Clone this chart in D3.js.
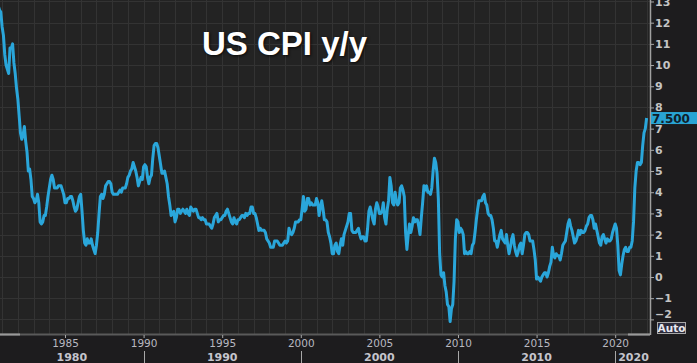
<!DOCTYPE html>
<html>
<head>
<meta charset="utf-8">
<script src="https://cdn.jsdelivr.net/npm/d3@7"></script>
<style>
  html, body { margin: 0; padding: 0; background: #1d1c1e; }
  svg { display: block; }
</style>
</head>
<body>
<div id="content"></div>
<script>
// US CPI y/y, monthly, starting Aug 1980
var startYear = 1980;
var startMonth = 7; // 0 = Jan
var cpiYoY = [
  12.9, 12.6, 12.8, 12.6, 12.5,
  11.8, 11.4, 10.5, 10.0, 9.8, 9.6, 10.8, 10.8, 11.0, 10.1, 9.6, 8.9,
  8.4, 7.6, 6.8, 6.5, 6.7, 7.1, 6.4, 5.9, 5.0, 5.1, 4.6, 3.8,
  3.7, 3.5, 3.6, 3.9, 3.5, 2.6, 2.5, 2.6, 2.9, 2.9, 3.3, 3.8,
  4.2, 4.6, 4.8, 4.6, 4.2, 4.2, 4.2, 4.3, 4.3, 4.3, 4.1, 3.9,
  3.5, 3.5, 3.7, 3.7, 3.8, 3.8, 3.6, 3.3, 3.1, 3.2, 3.5, 3.8,
  3.9, 3.1, 2.2, 1.6, 1.5, 1.8, 1.6, 1.6, 1.8, 1.5, 1.3, 1.1,
  1.5, 2.1, 3.0, 3.8, 3.9, 3.7, 3.9, 4.3, 4.4, 4.5, 4.5, 4.4,
  4.0, 3.9, 3.9, 3.9, 3.9, 4.0, 4.1, 4.0, 4.2, 4.2, 4.2, 4.4,
  4.7, 4.8, 5.0, 5.1, 5.4, 5.2, 5.0, 4.7, 4.3, 4.5, 4.7, 4.6,
  5.2, 5.3, 5.2, 4.7, 4.4, 4.7, 4.8, 5.6, 6.2, 6.3, 6.3, 6.1,
  5.7, 5.3, 4.9, 4.9, 5.0, 4.7, 4.4, 3.8, 3.4, 2.9, 3.0, 3.1,
  2.6, 2.8, 3.2, 3.2, 3.0, 3.1, 3.2, 3.1, 3.0, 3.2, 3.0, 2.9,
  3.3, 3.2, 3.1, 3.2, 3.2, 3.0, 2.8, 2.8, 2.7, 2.8, 2.7, 2.7,
  2.5, 2.5, 2.5, 2.4, 2.3, 2.5, 2.8, 2.9, 3.0, 2.6, 2.7, 2.7,
  2.8, 2.9, 2.9, 3.1, 3.2, 3.0, 2.8, 2.6, 2.5, 2.8, 2.6, 2.5,
  2.7, 2.7, 2.8, 2.9, 2.9, 2.8, 3.0, 2.9, 3.0, 3.0, 3.3, 3.3,
  3.0, 3.0, 2.8, 2.5, 2.2, 2.3, 2.2, 2.2, 2.2, 2.1, 1.8, 1.7,
  1.6, 1.4, 1.4, 1.4, 1.7, 1.7, 1.7, 1.6, 1.5, 1.5, 1.5, 1.6,
  1.7, 1.6, 1.7, 2.3, 2.1, 2.0, 2.1, 2.3, 2.6, 2.6, 2.6, 2.7,
  2.7, 3.2, 3.8, 3.1, 3.2, 3.7, 3.7, 3.4, 3.5, 3.4, 3.4, 3.4,
  3.7, 3.5, 2.9, 3.3, 3.6, 3.2, 2.7, 2.7, 2.6, 2.1, 1.9, 1.6,
  1.1, 1.1, 1.5, 1.6, 1.2, 1.1, 1.5, 1.8, 1.5, 2.0, 2.2, 2.4,
  2.6, 3.0, 3.0, 2.2, 2.1, 2.1, 2.1, 2.2, 2.3, 2.0, 1.8, 1.9,
  1.9, 1.7, 1.7, 2.3, 3.1, 3.3, 3.0, 2.7, 2.5, 3.2, 3.5, 3.3,
  3.0, 3.0, 3.1, 3.5, 2.8, 2.5, 3.2, 3.6, 4.7, 4.3, 3.5, 3.4,
  4.0, 3.6, 3.4, 3.5, 4.2, 4.3, 4.1, 3.8, 2.1, 1.3, 2.0, 2.5,
  2.1, 2.4, 2.8, 2.6, 2.7, 2.7, 2.4, 2.0, 2.8, 3.5, 4.3, 4.1,
  4.3, 4.0, 4.0, 3.9, 4.2, 5.0, 5.6, 5.4, 4.9, 3.7, 1.1, 0.1,
  0.0, 0.2, -0.4, -0.7, -1.3, -1.4, -2.1, -1.5, -1.3, -0.2, 1.8, 2.7,
  2.6, 2.1, 2.3, 2.2, 2.0, 1.1, 1.2, 1.1, 1.1, 1.2, 1.1, 1.5,
  1.6, 2.1, 2.7, 3.2, 3.6, 3.6, 3.6, 3.8, 3.9, 3.5, 3.4, 3.0,
  2.9, 2.9, 2.7, 2.3, 1.7, 1.7, 1.4, 1.7, 2.0, 2.2, 1.8, 1.7,
  1.6, 2.0, 1.5, 1.1, 1.4, 1.8, 2.0, 1.5, 1.2, 1.0, 1.2, 1.5,
  1.6, 1.1, 1.5, 2.0, 2.1, 2.1, 2.0, 1.7, 1.7, 1.7, 1.3, 0.8,
  -0.1, 0.0, -0.1, -0.2, 0.0, 0.1, 0.2, 0.2, 0.0, 0.2, 0.5, 0.7,
  1.4, 1.0, 0.9, 1.1, 1.0, 1.0, 0.8, 1.1, 1.5, 1.6, 1.7, 2.1,
  2.5, 2.7, 2.4, 2.2, 1.9, 1.6, 1.7, 1.9, 2.2, 2.0, 2.2, 2.1,
  2.1, 2.2, 2.4, 2.5, 2.8, 2.9, 2.9, 2.7, 2.3, 2.5, 2.2, 1.9,
  1.6, 1.5, 1.9, 2.0, 1.8, 1.6, 1.8, 1.7, 1.7, 1.8, 2.1, 2.3,
  2.5, 2.3, 1.5, 0.3, 0.1, 0.6, 1.0, 1.3, 1.4, 1.2, 1.2, 1.4,
  1.4, 1.7, 2.6, 4.2, 5.0, 5.4, 5.4, 5.3, 5.4, 6.2, 6.8, 7.0,
  7.5
];
var yTicks = [-2, -1, 0, 1, 2, 3, 4, 5, 6, 7, 8, 9, 10, 11, 12, 13];
var xTickYears = [1985, 1990, 1995, 2000, 2005, 2010, 2015, 2020];
var decadeStarts = [1980, 1990, 2000, 2010, 2020];
var lastLabel = "7.500";

var width = 697, height = 363;
var plotRight = 650, plotBottom = 334;

var data = cpiYoY.map(function(v, i) {
  return { t: startYear + (startMonth + i) / 12, v: v };
});

var x = d3.scaleLinear().domain([1980.865, 2022.215]).range([0, plotRight]);
var y = d3.scaleLinear().domain([-2.69, 13.07]).range([plotBottom, 0]);

var svg = d3.select("#content").append("svg")
  .attr("width", width)
  .attr("height", height);

svg.append("rect").attr("width", width).attr("height", height).attr("fill", "#1d1c1e");
svg.append("rect").attr("width", plotRight).attr("height", plotBottom).attr("fill", "#232323");

svg.append("defs").append("clipPath").attr("id", "plotClip")
  .append("rect").attr("width", plotRight).attr("height", plotBottom);

// grid
var grid = svg.append("g").attr("stroke", "#333333").attr("stroke-width", 1);
grid.selectAll(".vg").data(d3.range(1981, 2023)).enter().append("line")
  .attr("x1", function(d) { return Math.round(x(d)) + 0.5; })
  .attr("x2", function(d) { return Math.round(x(d)) + 0.5; })
  .attr("y1", 0).attr("y2", plotBottom);
grid.selectAll(".hg").data(yTicks).enter().append("line")
  .attr("x1", 0).attr("x2", plotRight)
  .attr("y1", function(d) { return Math.round(y(d)) + 0.5; })
  .attr("y2", function(d) { return Math.round(y(d)) + 0.5; });

// title
svg.append("text")
  .attr("x", 202).attr("y", 55)
  .attr("font-family", "Liberation Sans, Arial, sans-serif")
  .attr("font-weight", "bold")
  .attr("font-size", 33)
  .attr("fill", "#ffffff")
  .attr("style", "text-shadow: 1px 1px 3px rgba(0,0,0,0.8)")
  .text("US CPI y/y");

// line
var line = d3.line()
  .x(function(d) { return x(d.t); })
  .y(function(d) { return y(d.v); });

svg.append("path")
  .datum(data)
  .attr("clip-path", "url(#plotClip)")
  .attr("d", line)
  .attr("fill", "none")
  .attr("stroke", "#2aa6da")
  .attr("stroke-width", 3)
  .attr("stroke-linejoin", "round");

// frame lines
svg.append("line").attr("x1", 0).attr("x2", plotRight)
  .attr("y1", plotBottom + 0.5).attr("y2", plotBottom + 0.5)
  .attr("stroke", "#5a5a5a").attr("stroke-width", 2);
svg.append("line").attr("x1", 0).attr("x2", 20)
  .attr("y1", plotBottom + 0.5).attr("y2", plotBottom + 0.5)
  .attr("stroke", "#9a9a9a").attr("stroke-width", 2);
svg.append("line").attr("x1", 628).attr("x2", plotRight)
  .attr("y1", plotBottom + 0.5).attr("y2", plotBottom + 0.5)
  .attr("stroke", "#9a9a9a").attr("stroke-width", 2);
svg.append("line").attr("x1", plotRight + 0.5).attr("x2", plotRight + 0.5)
  .attr("y1", 0).attr("y2", plotBottom + 1)
  .attr("stroke", "#a0a0a0").attr("stroke-width", 1.5);

// y axis
var yAxis = d3.axisRight(y).tickValues(yTicks).tickSize(4).tickPadding(1)
  .tickFormat(d3.format("d"));
var yg = svg.append("g").attr("transform", "translate(" + plotRight + ",0)").call(yAxis);
yg.select(".domain").remove();
yg.selectAll(".tick line").attr("stroke", "#a8a8a8");
yg.selectAll(".tick text")
  .attr("fill", "#c4c4c4")
  .attr("font-family", "DejaVu Sans, Verdana, sans-serif")
  .attr("font-weight", "bold")
  .attr("font-size", 11)
  .attr("dy", function(d) { return d === -2 ? "-0.2em" : "0.32em"; });

// last value label
var lastVal = cpiYoY[cpiYoY.length - 1];
svg.append("rect")
  .attr("x", plotRight + 1).attr("y", y(lastVal) - 6)
  .attr("width", width - plotRight - 1).attr("height", 12)
  .attr("fill", "#29a4d4");
svg.append("text")
  .attr("x", plotRight + 2).attr("y", y(lastVal) + 4.5)
  .attr("font-family", "DejaVu Sans, Verdana, sans-serif")
  .attr("font-weight", "bold")
  .attr("font-size", 12)
  .attr("fill", "#10202a")
  .text(lastLabel);

// Auto button
svg.append("rect")
  .attr("x", 657.5).attr("y", 322.5).attr("width", 28).attr("height", 11)
  .attr("fill", "#2c2c3c").attr("stroke", "#a8a8a8");
svg.append("text")
  .attr("x", 671.5).attr("y", 332)
  .attr("text-anchor", "middle")
  .attr("font-family", "DejaVu Sans, Verdana, sans-serif")
  .attr("font-weight", "bold")
  .attr("font-size", 10.5)
  .attr("fill", "#e8e8f0")
  .text("Auto");

// x axis (5-year)
var xAxis = d3.axisBottom(x).tickValues(xTickYears).tickSize(3).tickPadding(2)
  .tickFormat(d3.format("d"));
var xg = svg.append("g").attr("transform", "translate(0," + (plotBottom + 1) + ")").call(xAxis);
xg.select(".domain").remove();
xg.selectAll(".tick line").attr("stroke", "#a8a8a8");
xg.selectAll(".tick text")
  .attr("fill", "#b8b8c0")
  .attr("font-family", "DejaVu Sans, Verdana, sans-serif")
  .attr("font-size", 10.5);

// decade row
var decades = svg.append("g");
decades.selectAll(".dsep").data(decadeStarts.slice(1)).enter().append("line")
  .attr("x1", function(d) { return Math.round(x(d)) + 0.5; })
  .attr("x2", function(d) { return Math.round(x(d)) + 0.5; })
  .attr("y1", 351).attr("y2", height)
  .attr("stroke", "#a8a8a8");
decades.selectAll(".dlab").data(decadeStarts).enter().append("text")
  .attr("x", function(d) {
    if (d === 2020) return x(d) + 3;
    var a = Math.max(x(d), x.range()[0]);
    return (a + x(d + 10)) / 2;
  })
  .attr("y", 361)
  .attr("text-anchor", function(d) { return d === 2020 ? "start" : "middle"; })
  .attr("font-family", "DejaVu Sans, Verdana, sans-serif")
  .attr("font-weight", "bold")
  .attr("font-size", 11)
  .attr("fill", "#c4c4cc")
  .text(function(d) { return d; });
</script>
</body>
</html>
